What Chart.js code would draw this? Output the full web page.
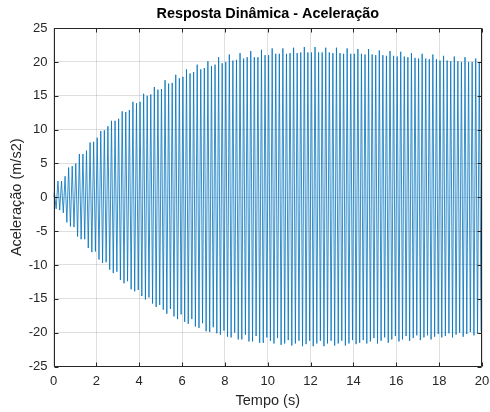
<!DOCTYPE html>
<html>
<head>
<meta charset="utf-8">
<script src="https://cdn.jsdelivr.net/npm/chart.js@4.4.1/dist/chart.umd.min.js"></script>
<style>
html,body{margin:0;padding:0;background:#fff}
#wrap{width:490px;height:412px;position:relative}
</style>
</head>
<body>
<div id="wrap"><canvas id="c"></canvas></div>
<script>
const chartTitle = 'Resposta Dinâmica - Aceleração';
const xLabel = 'Tempo (s)';
const yLabel = 'Aceleração (m/s2)';
const xTicks = [0, 2, 4, 6, 8, 10, 12, 14, 16, 18, 20];
const yTicks = [-25, -20, -15, -10, -5, 0, 5, 10, 15, 20, 25];

// timing of the oscillation (s)
const startTime = 0;
const startValue = 0;
const firstPeakTime = 0.04;
const period = 1 / 6;

// positive peaks, one per cycle (m/s2)
const topPeaks = [
  0.8, 2.4, 2.4, 3.1, 4.4, 4.6, 5.0, 6.4, 6.4, 6.9,
  8.1, 8.2, 8.8, 9.8, 9.9, 10.5, 11.3, 11.3, 11.6, 12.7,
  12.6, 12.9, 14.1, 13.9, 14.1, 15.3, 15.0, 15.2, 16.3, 15.9,
  16.0, 17.3, 16.8, 16.9, 18.1, 17.6, 17.8, 18.9, 18.3, 18.5,
  19.6, 18.9, 19.1, 20.1, 19.4, 19.6, 20.7, 19.8, 20.0, 21.1,
  20.2, 20.3, 21.3, 20.5, 20.7, 21.6, 20.7, 20.7, 21.8, 21.0,
  21.0, 22.0, 21.2, 21.2, 22.0, 21.2, 21.3, 22.1, 21.3, 21.4,
  22.2, 21.4, 21.4, 22.2, 21.4, 21.4, 22.1, 21.4, 21.3, 22.1,
  21.3, 21.2, 22.0, 21.2, 21.2, 21.9, 21.2, 21.1, 21.9, 21.1,
  21.0, 21.7, 21.0, 20.9, 21.6, 20.9, 20.8, 21.5, 20.8, 20.7,
  21.3, 20.6, 20.5, 21.2, 20.5, 20.4, 21.1, 20.4, 20.2, 20.9,
  20.2, 20.1, 20.8, 20.1, 20.0, 20.7, 20.0, 20.0, 20.5, 19.9
];

// negative peaks, one per cycle (m/s2)
const bottomPeaks = [
  -1.7, -1.9, -2.3, -3.7, -4.3, -4.4, -5.8, -6.2, -6.2, -7.5,
  -8.1, -8.0, -9.2, -9.7, -9.6, -10.7, -11.2, -11.0, -12.2, -12.7,
  -12.4, -13.6, -13.9, -13.7, -14.6, -15.1, -14.8, -15.7, -16.2, -15.9,
  -16.6, -17.2, -16.5, -17.6, -18.0, -17.3, -18.4, -18.7, -18.0, -19.1,
  -19.3, -18.6, -19.8, -19.9, -19.2, -20.1, -20.3, -19.7, -20.6, -20.7,
  -20.0, -21.0, -21.0, -20.3, -21.3, -21.3, -20.5, -21.5, -21.5, -20.7,
  -21.2, -21.6, -20.8, -21.8, -21.6, -21.1, -21.9, -21.6, -21.2, -22.0,
  -21.7, -21.2, -22.0, -21.6, -21.2, -22.0, -21.6, -21.2, -21.9, -21.6,
  -21.2, -21.9, -21.6, -21.1, -21.7, -21.5, -21.1, -21.6, -21.3, -20.8,
  -21.6, -21.2, -20.7, -21.5, -21.0, -20.5, -21.3, -21.0, -20.5, -21.2,
  -20.8, -20.4, -21.1, -20.7, -20.4, -21.0, -20.6, -20.2, -20.7, -20.5,
  -20.1, -20.7, -20.3, -20.0, -20.6, -20.2, -19.9, -20.4, -20.1, -19.8
];

const points = [{x: startTime, y: startValue}];
for (let k = 0; k < topPeaks.length; k++) {
  points.push({x: firstPeakTime + k * period, y: topPeaks[k]});
  points.push({x: firstPeakTime + (k + 0.5) * period, y: bottomPeaks[k]});
}

const FONT = '"Liberation Sans", Arial, Helvetica, sans-serif';
const AX = '#262626';

const boxPlugin = {
  id: 'matlabBox',
  afterDatasetsDraw(chart) {
    const {ctx, chartArea: a, scales: {x, y}} = chart;
    ctx.save();
    ctx.strokeStyle = AX;
    ctx.lineWidth = 1;
    const L = Math.round(a.left) + 0.5, R = Math.round(a.right) - 0.5;
    const T = Math.round(a.top) + 0.5, B = Math.round(a.bottom) - 0.5;
    ctx.beginPath();
    ctx.rect(L, T, R - L, B - T);
    const tl = 4;
    xTicks.forEach(v => {
      const px = Math.round(x.getPixelForValue(v)) + 0.5;
      ctx.moveTo(px, B); ctx.lineTo(px, B - tl);
      ctx.moveTo(px, T); ctx.lineTo(px, T + tl);
    });
    yTicks.forEach(v => {
      const py = Math.round(y.getPixelForValue(v)) + 0.5;
      ctx.moveTo(L, py); ctx.lineTo(L + tl, py);
      ctx.moveTo(R, py); ctx.lineTo(R - tl, py);
    });
    ctx.stroke();
    ctx.restore();
  }
};

new Chart(document.getElementById('c'), {
  type: 'line',
  data: {
    datasets: [{
      data: points,
      borderColor: '#0072BD',
      borderWidth: 0.8,
      pointRadius: 0,
      tension: 0,
      fill: false
    }]
  },
  options: {
    responsive: true,
    maintainAspectRatio: false,
    animation: false,
    devicePixelRatio: 1,
    layout: {padding: {left: 0, right: 0, top: 0, bottom: 0}},
    plugins: {
      legend: {display: false},
      tooltip: {enabled: false},
      title: {
        display: true,
        text: chartTitle,
        fullSize: false,
        color: '#000',
        font: {family: FONT, size: 14.4, weight: 'bold'},
        padding: {top: 5.4, bottom: 5.4}
      }
    },
    scales: {
      x: {
        type: 'linear',
        min: 0, max: 20,
        afterBuildTicks: s => { s.ticks = xTicks.map(v => ({value: v})); },
        afterFit: s => { s.height = 45.5; s.paddingRight = 8; },
        ticks: {color: AX, font: {family: FONT, size: 13}, padding: 7, maxRotation: 0, autoSkip: false},
        grid: {color: 'rgba(38,38,38,0.15)', lineWidth: 1, drawTicks: false},
        border: {display: false},
        title: {display: true, text: xLabel, color: AX, font: {family: FONT, size: 14.5}, padding: {top: 0, bottom: 2.3}}
      },
      y: {
        type: 'linear',
        min: -25, max: 25,
        afterBuildTicks: s => { s.ticks = yTicks.map(v => ({value: v})); },
        afterFit: s => { s.width = 53.5; },
        ticks: {color: AX, font: {family: FONT, size: 13}, padding: 6, autoSkip: false},
        grid: {color: 'rgba(38,38,38,0.15)', lineWidth: 1, drawTicks: false},
        border: {display: false},
        title: {display: true, text: yLabel, color: AX, font: {family: FONT, size: 14.5}, padding: {top: 8.3, bottom: 0}}
      }
    }
  },
  plugins: [boxPlugin]
});
</script>
</body>
</html>
